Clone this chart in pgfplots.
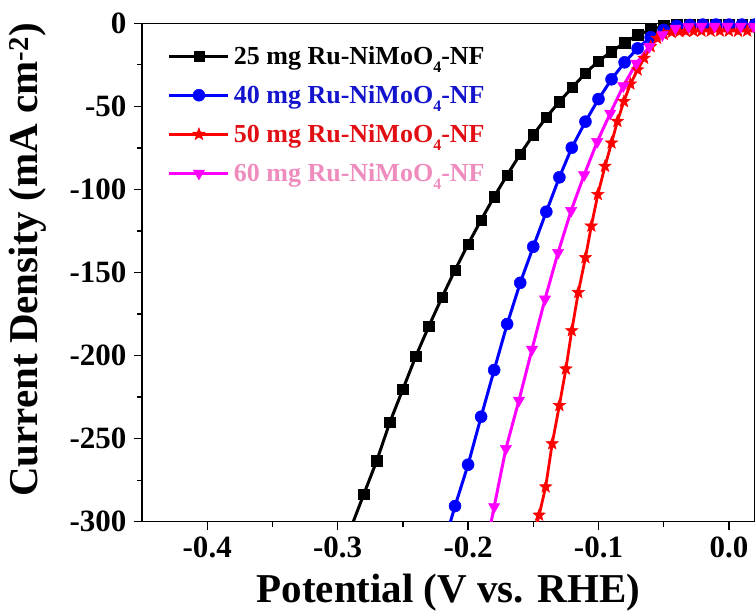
\documentclass[border=0pt]{standalone}
\usepackage{fontspec}
\setmainfont{Liberation Serif}
\usepackage{pgfplots}
\pgfplotsset{compat=1.18}
\usetikzlibrary{plotmarks}

\definecolor{cblue}{RGB}{0,0,255}
\definecolor{cred}{RGB}{255,0,0}
\definecolor{cmag}{RGB}{255,0,255}
\definecolor{legblue}{RGB}{20,20,205}
\definecolor{legred}{RGB}{225,15,20}
\definecolor{legpink}{RGB}{238,140,190}

% filled five-pointed star
\pgfdeclareplotmark{fstar}{%
  \pgfpathmoveto{\pgfpointpolar{90}{\pgfplotmarksize}}%
  \pgfpathlineto{\pgfpointpolar{126}{0.42\pgfplotmarksize}}%
  \pgfpathlineto{\pgfpointpolar{162}{\pgfplotmarksize}}%
  \pgfpathlineto{\pgfpointpolar{198}{0.42\pgfplotmarksize}}%
  \pgfpathlineto{\pgfpointpolar{234}{\pgfplotmarksize}}%
  \pgfpathlineto{\pgfpointpolar{270}{0.42\pgfplotmarksize}}%
  \pgfpathlineto{\pgfpointpolar{306}{\pgfplotmarksize}}%
  \pgfpathlineto{\pgfpointpolar{342}{0.42\pgfplotmarksize}}%
  \pgfpathlineto{\pgfpointpolar{18}{\pgfplotmarksize}}%
  \pgfpathlineto{\pgfpointpolar{54}{0.42\pgfplotmarksize}}%
  \pgfpathclose
  \pgfusepathqfillstroke}

\newcommand{\sub}[1]{\raisebox{-0.3em}{\fontsize{16}{16}\selectfont #1}}

\begin{document}
\begin{tikzpicture}
\begin{axis}[
    name=ax,
    scale only axis,
    width=613pt, height=498.4pt,
    xmin=-0.45, xmax=0.02,
    ymin=-300, ymax=0,
    xtick={-0.4,-0.3,-0.2,-0.1,0.0},
    xticklabels={-0.4,-0.3,-0.2,-0.1,0.0},
    ytick={-300,-250,-200,-150,-100,-50,0},
    yticklabels={-300,-250,-200,-150,-100,-50,0},
    minor x tick num=1,
    minor y tick num=1,
    tick pos=left,
    tick align=outside,
    major tick length=8pt,
    minor tick length=5pt,
    every tick/.style={line width=1.3pt, black},
    axis line style={line width=1.5pt},
    tick label style={font=\fontsize{31}{31}\selectfont\bfseries},
    xticklabel style={yshift=-4pt},
    yticklabel style={xshift=-4pt},
    xlabel={Potential (V vs. RHE)},
    ylabel={Current Density (mA cm\textsuperscript{-2})},
    label style={font=\fontsize{41}{41}\selectfont\bfseries},
    xlabel style={at={(axis description cs:0.5,-0.1627)}, anchor=base},
    ylabel style={at={(axis description cs:-0.1705,0.525)}, anchor=base},
    legend style={at={(axis description cs:0.042,0.958)}, anchor=north west,
        draw=none, fill=none, font=\fontsize{26}{26}\selectfont\bfseries,
        row sep=15.5pt, inner sep=0pt,
        nodes={inner xsep=4pt}},
    legend cell align=left,
    legend image code/.code={%
        \draw[mark repeat=2, mark phase=2] plot coordinates {(0pt,0pt) (29.5pt,0pt) (59pt,0pt)};},
]
\addplot[black, line width=3pt, mark=square*, mark size=5.2pt, mark options={solid, line width=0.5pt}] coordinates {
(-0.290,-304) (-0.280,-283.6) (-0.270,-263.3) (-0.260,-240.2) (-0.250,-220.3)
(-0.240,-200.3) (-0.230,-182.2) (-0.220,-165) (-0.210,-148.5) (-0.200,-133)
(-0.190,-118.4) (-0.180,-104.4) (-0.170,-91.3) (-0.160,-78.7) (-0.150,-67.2)
(-0.140,-56.6) (-0.130,-47.2) (-0.120,-38.5) (-0.110,-30.1) (-0.100,-22.7)
(-0.090,-17.1) (-0.080,-11.7) (-0.070,-7) (-0.060,-4) (-0.050,-1.6)
(-0.040,-0.8) (-0.030,-0.5) (-0.020,-0.4) (-0.010,-0.4) (0.000,-0.4)
(0.010,-0.4) (0.020,-0.4)
};
\addlegendentry{25 mg Ru-NiMoO\sub{4}-NF}
\addplot[cblue, line width=3pt, mark=*, mark size=6pt, mark options={line width=0.5pt}] coordinates {
(-0.215,-304) (-0.210,-290.6) (-0.200,-265.7) (-0.190,-236.8) (-0.180,-208.7)
(-0.170,-181) (-0.160,-156.2) (-0.150,-134.5) (-0.140,-113.4) (-0.130,-92.7)
(-0.1205,-74.9) (-0.110,-59.2) (-0.100,-45.6) (-0.090,-33.7) (-0.080,-23.5)
(-0.070,-15.1) (-0.060,-8.4) (-0.050,-4) (-0.040,-1.6) (-0.030,-1)
(-0.020,-0.8) (-0.010,-0.8) (0.000,-0.8) (0.010,-0.8) (0.020,-0.8)
};
\addlegendentry{\textcolor{legblue}{40 mg Ru-NiMoO\sub{4}-NF}}
\addplot[cred, line width=2.8pt, mark=fstar, mark size=6.5pt, mark options={line width=0.5pt}] coordinates {
(-0.150,-310) (-0.1455,-296) (-0.1405,-279) (-0.1355,-253) (-0.130,-230)
(-0.125,-208) (-0.1205,-185) (-0.1155,-162) (-0.110,-141) (-0.1055,-122)
(-0.1005,-103) (-0.095,-86) (-0.090,-72) (-0.0855,-59) (-0.0805,-47)
(-0.0755,-36.5) (-0.070,-28) (-0.065,-21) (-0.060,-14) (-0.055,-9)
(-0.050,-6.6) (-0.044,-5.4) (-0.038,-5) (-0.033,-4.8) (-0.027,-4.7)
(-0.021,-4.6) (-0.014,-4.6) (-0.007,-4.6) (0.000,-4.6) (0.007,-4.7)
(0.014,-4.6) (0.021,-4.6)
};
\addlegendentry{\textcolor{legred}{50 mg Ru-NiMoO\sub{4}-NF}}
\addplot[cmag, line width=3pt, mark=triangle*, mark size=6.5pt, mark options={rotate=180, line width=0.5pt}] coordinates {
(-0.184,-307) (-0.180,-291) (-0.171,-256) (-0.161,-227) (-0.151,-196.3)
(-0.141,-166) (-0.131,-138) (-0.121,-112.8) (-0.111,-91.3) (-0.101,-71.3)
(-0.091,-54.2) (-0.081,-37.7) (-0.071,-24.1) (-0.061,-14.1) (-0.051,-7)
(-0.041,-3) (-0.031,-2) (-0.021,-1.8) (-0.011,-1.8) (-0.001,-1.8)
(0.009,-1.8) (0.019,-1.8)
};
\addlegendentry{\textcolor{legpink}{60 mg Ru-NiMoO\sub{4}-NF}}
\end{axis}
\pgfresetboundingbox
\path ([xshift=-142pt,yshift=-90.3pt]ax.south west) rectangle ([yshift=23.3pt]ax.north east);
\end{tikzpicture}
\end{document}
